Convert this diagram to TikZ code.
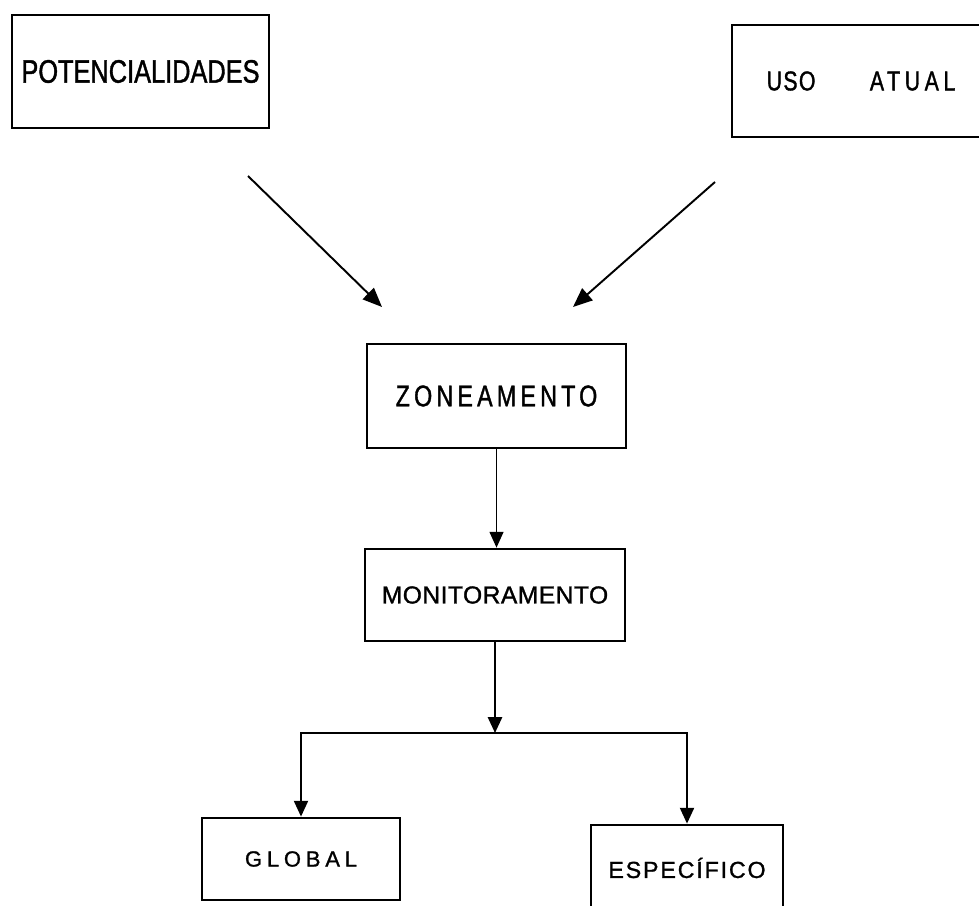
\documentclass[tikz,border=0pt]{standalone}
\usepackage{fontspec}
\setmainfont[FakeBold=1.2]{Liberation Sans}
\newfontfamily\estreita[FakeStretch=0.78,FakeBold=1.2]{Liberation Sans}
\usepackage{tikz}
\usetikzlibrary{arrows.meta}

\tikzset{
  caixa/.style={draw, rectangle, line width=1.6pt, inner sep=0pt},
  seta/.style={-{Triangle[length=9pt,width=8pt]}, line width=1.1pt}
}
\newcommand{\espaco}[2]{{\addfontfeature{LetterSpace=#1}#2}}

\begin{document}
\begin{tikzpicture}[x=0.02cm,y=-0.02cm]
\useasboundingbox (0,0) rectangle (979,905);

\node[caixa,minimum width=5.14cm,minimum height=2.26cm,font=\estreita\fontsize{18.5}{21}\selectfont] (pot) at (140.5,71.5) {POTENCIALIDADES};
\node[caixa,minimum width=5.16cm,minimum height=2.24cm,font=\estreita\fontsize{15.5}{18}\selectfont] (uso) at (861,81) {\espaco{5}{USO}\hspace{31pt}\espaco{17}{ATUAL}};
\node[caixa,minimum width=5.18cm,minimum height=2.08cm,font=\estreita\fontsize{17}{20}\selectfont] (zon) at (496.5,396) {\espaco{14}{ZONEAMENTO}};
\node[caixa,minimum width=5.2cm,minimum height=1.84cm,font=\fontsize{14}{16}\selectfont] (mon) at (495,595) {\espaco{2}{MONITORAMENTO}};
\node[caixa,minimum width=3.96cm,minimum height=1.64cm,font=\fontsize{12.5}{15}\selectfont] (glo) at (301,859) {\espaco{22}{GLOBAL}};
\node[caixa,minimum width=3.84cm,minimum height=1.72cm,font=\fontsize{13.2}{15}\selectfont] (esp) at (687,868) {\espaco{8}{ESPECÍFICO}};

% setas de entrada
\coordinate (p1) at (248,176);
\coordinate (z1) at (382,307);
\coordinate (u1) at (715,182);
\coordinate (z2) at (573,307);
\draw[seta,-{Triangle[length=11pt,width=9pt]}] (p1) -- (z1);
\draw[seta,-{Triangle[length=11pt,width=9pt]}] (u1) -- (z2);

\draw[seta,line width=0.7pt] (zon.south) -- (zon.south |- mon.north);
\coordinate (ramo) at (495,733);
\draw[seta,line width=1.3pt] (mon.south) -- (ramo);
\draw[seta] (ramo) -| (glo.north);
\draw[seta] (ramo) -| (esp.north);
\end{tikzpicture}
\end{document}
